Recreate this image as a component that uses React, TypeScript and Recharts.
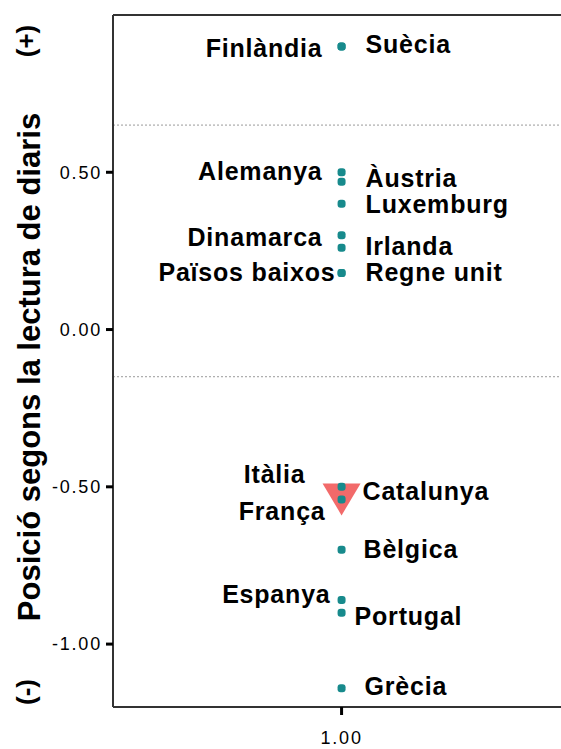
import React from 'react';
import { ScatterChart, Scatter, XAxis, YAxis, ReferenceLine } from 'recharts';

// countries, each with its newspaper-reading score
const countries = [
  'Finlàndia', 'Suècia', 'Alemanya', 'Àustria', 'Luxemburg', 'Dinamarca', 'Irlanda',
  'Països baixos', 'Regne unit', 'Itàlia', 'França', 'Bèlgica', 'Espanya', 'Portugal', 'Grècia'
];
const scores = [0.9, 0.9, 0.5, 0.47, 0.4, 0.3, 0.26, 0.18, 0.18, -0.5, -0.54, -0.7, -0.86, -0.9, -1.14];

const highlighted = ['Catalunya'];
const highlightedScores = [-0.54];

const yTicks = [-1, -0.5, 0, 0.5];
const xTicks = [1];
const groupCuts = [0.65, -0.15];

const countryData = countries.map((name, i) => ({ name, x: 1, y: scores[i] }));
const highlightData = highlighted.map((name, i) => ({ name, x: 1, y: highlightedScores[i] }));

// which labels sit left of the points, plus small nudges so they don't collide
const leftLabels = new Set(['Finlàndia', 'Alemanya', 'Dinamarca', 'Països baixos', 'Itàlia', 'França', 'Espanya']);
const nudge: Record<string, [number, number]> = {
  'Finlàndia': [0, 3],
  'Suècia': [0, -1],
  'Àustria': [0, -3],
  'Luxemburg': [0, 1],
  'Dinamarca': [0, 3],
  'Irlanda': [0, -1],
  'Països baixos': [13, 0],
  'Regne unit': [0, 0],
  'Itàlia': [-17, -12],
  'França': [3, 13],
  'Catalunya': [-3, -7],
  'Bèlgica': [-2, 0],
  'Espanya': [8, -5],
  'Portugal': [-11, 4],
  'Grècia': [-1, -1]
};

const TEAL = '#178a8c';
const LABEL_FONT = '"Liberation Sans", Arial, sans-serif';

const PointLabel = ({ cx, cy, name }: { cx: number; cy: number; name: string }) => {
  const left = leftLabels.has(name);
  const [dx, dy] = nudge[name] ?? [0, 0];
  return (
    <text
      x={(left ? cx - 19 : cx + 24) + dx}
      y={cy + dy + 8}
      textAnchor={left ? 'end' : 'start'}
      fontFamily={LABEL_FONT}
      fontWeight="bold"
      fontSize={25}
      letterSpacing={0.8}
      fill="#000"
    >
      {name}
    </text>
  );
};

const CountryDot = (props: any) => {
  const { cx, cy, payload } = props;
  return (
    <g>
      <rect x={cx - 4} y={cy - 4} width={8} height={8} rx={3} fill={TEAL} />
      <PointLabel cx={cx} cy={cy} name={payload.name} />
    </g>
  );
};

const Triangle = (props: any) => {
  const { cx, cy, payload } = props;
  return (
    <g>
      <path d={`M${cx - 19},${cy - 16} L${cx + 19},${cy - 16} L${cx},${cy + 16} Z`} fill="#f26a6a" />
      <PointLabel cx={cx} cy={cy} name={payload.name} />
    </g>
  );
};

const AxisTitle = (props: any) => {
  const { viewBox } = props;
  const x = viewBox.x + 30;
  const mid = viewBox.y + viewBox.height / 2 + 6;
  const common = { fontFamily: LABEL_FONT, fontWeight: 'bold' as const, fill: '#000', textAnchor: 'middle' as const };
  return (
    <g>
      <text {...common} fontSize={31} transform={`translate(${x + 10},${mid}) rotate(-90)`}>
        Posició segons la lectura de diaris
      </text>
      <text {...common} fontSize={26} transform={`translate(${x + 5},${viewBox.y + 26}) rotate(-90)`}>
        (+)
      </text>
      <text {...common} fontSize={26} transform={`translate(${x + 5},${viewBox.y + viewBox.height - 15}) rotate(-90)`}>
        (-)
      </text>
    </g>
  );
};

const tickStyle = { fontFamily: LABEL_FONT, fontSize: 18, fill: '#000', letterSpacing: 1.8 };

export default function App() {
  return (
    <div style={{ position: 'fixed', left: 0, top: 0, background: '#fff' }}>
      <ScatterChart width={561} height={749} margin={{ top: 15, right: 0, bottom: 0, left: 0 }}>
        <XAxis
          type="number"
          dataKey="x"
          domain={[0.5, 1.48]}
          ticks={xTicks}
          tickFormatter={(v: number) => v.toFixed(2)}
          height={42}
          tickSize={8}
          tickMargin={16}
          tick={tickStyle}
          axisLine={{ stroke: '#333', strokeWidth: 2 }}
          tickLine={{ stroke: '#000', strokeWidth: 3 }}
          allowDataOverflow
        />
        <YAxis
          type="number"
          dataKey="y"
          domain={[-1.2, 1.0]}
          ticks={yTicks}
          tickFormatter={(v: number) => v.toFixed(2)}
          width={113}
          tickSize={7}
          tickMargin={4}
          tick={tickStyle}
          axisLine={{ stroke: '#333', strokeWidth: 2 }}
          tickLine={{ stroke: '#000', strokeWidth: 3 }}
          allowDataOverflow
          label={{ content: (p: any) => <AxisTitle {...p} /> }}
        />
        <ReferenceLine y={1} stroke="#333" strokeWidth={2} />
        {groupCuts.map((v) => (
          <ReferenceLine key={v} y={v} stroke="#999" strokeDasharray="2 2" />
        ))}
        <Scatter data={highlightData} shape={<Triangle />} isAnimationActive={false} />
        <Scatter data={countryData} shape={<CountryDot />} isAnimationActive={false} />
      </ScatterChart>
    </div>
  );
}
